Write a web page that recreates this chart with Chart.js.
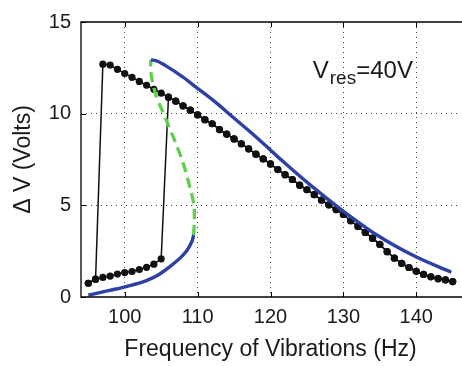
<!DOCTYPE html>
<html>
<head>
<meta charset="utf-8">
<script src="https://cdn.jsdelivr.net/npm/chart.js@4.4.0/dist/chart.umd.min.js"></script>
<style>
    html, body { margin: 0; padding: 0; background: #fff; overflow: hidden; }
    #contenedor { width: 464px; height: 366px; }
</style>
</head>
<body>
<div id="contenedor"><canvas id="myChart" width="464" height="366"></canvas></div>
<script>
// Datos experimentales: rama baja (Hz, Volts)
var frecBaja = [95, 96, 97, 98, 99, 100, 101, 102, 103, 104, 105];
var voltBaja = [0.75, 0.97, 1.07, 1.14, 1.25, 1.33, 1.39, 1.5, 1.62, 1.79, 2.08];

// Datos experimentales: rama alta
var frecAlta = [97, 98, 99, 100, 101, 102, 103, 104, 105, 106, 107, 108, 109, 110, 111, 112,
    113, 114, 115, 116, 117, 118, 119, 120, 121, 122, 123, 124, 125, 126, 127, 128, 129, 130,
    131, 132, 133, 134, 135, 136, 137, 138, 139, 140, 141, 142, 143, 144, 145];
var voltAlta = [12.7, 12.65, 12.42, 12.19, 11.98, 11.76, 11.55, 11.33, 11.12, 10.9, 10.68, 10.43,
    10.19, 9.93, 9.67, 9.45, 9.13, 8.88, 8.62, 8.36, 8.08, 7.79, 7.53, 7.26, 6.95, 6.67, 6.41,
    6.1, 5.85, 5.58, 5.28, 5.03, 4.77, 4.5, 4.16, 3.85, 3.52, 3.21, 2.87, 2.47, 2.12, 1.83,
    1.61, 1.4, 1.23, 1.1, 1.0, 0.93, 0.84];

// Curva teorica estable (rama alta y rama baja)
var frecTeoAlta = [103.6, 104.5, 105.6, 107.9, 109.9, 112.4, 114.7, 117, 119.2, 121.5, 125.6, 129.7, 134.6, 139.6, 144.8];
var voltTeoAlta = [12.94, 12.86, 12.62, 12.02, 11.41, 10.64, 9.86, 9.08, 8.31, 7.47, 6.06, 4.77, 3.38, 2.26, 1.35];
var frecTeoBaja = [95, 97.9, 100.2, 102.9, 104.7, 106.5, 107.9, 108.5, 109.0, 109.3, 109.45];
var voltTeoBaja = [0.1, 0.36, 0.57, 0.88, 1.23, 1.75, 2.24, 2.52, 2.85, 3.12, 3.38];

// Curva teorica inestable (verde discontinua)
var frecInestable = [109.45, 109.55, 109.5, 109.0, 108.4, 107.8, 107.0, 106.1, 105.2, 104.3, 103.8, 103.55, 103.6];
var voltInestable = [3.38, 4.2, 5.0, 5.89, 6.8, 7.55, 8.39, 9.26, 10.12, 10.98, 11.76, 12.4, 12.94];

// Marcas de los ejes
var ticksX = [100, 110, 120, 130, 140];
var ticksY = [0, 5, 10, 15];

var fuente = '"Liberation Sans", Arial, Helvetica, sans-serif';
var colorTexto = "#1a1a1a";

function puntos(xs, ys) {
    return xs.map(function (x, i) {
        return { x: x, y: ys[i] };
    });
}

// Barrido de subida: rama baja hasta 105 Hz, salto a la rama alta
var subida = puntos(frecBaja, voltBaja).concat(
    puntos(frecAlta, voltAlta).filter(function (p) { return p.x >= 106; })
);
// Barrido de bajada: rama alta hasta 97 Hz, salto a la rama baja
var bajada = puntos(frecAlta, voltAlta).reverse().concat(
    puntos(frecBaja, voltBaja).filter(function (p) { return p.x <= 96; }).reverse()
);

// Texto V_res=40V y caja de ejes con marcas hacia dentro
var extras = {
    id: "extras",
    afterDatasetsDraw: function (chart) {
        var c = chart.ctx;
        var x = chart.scales.x.getPixelForValue(125.8);
        var y = chart.scales.y.getPixelForValue(11.97);
        c.save();
        c.fillStyle = colorTexto;
        c.textBaseline = "alphabetic";
        c.textAlign = "left";
        c.font = "24px " + fuente;
        c.fillText("V", x, y);
        x += c.measureText("V").width + 1;
        c.font = "19px " + fuente;
        c.fillText("res", x, y + 6.5);
        x += c.measureText("res").width;
        c.font = "24px " + fuente;
        c.fillText("=40V", x, y);
        c.restore();
    },
    afterDraw: function (chart) {
        var c = chart.ctx;
        var a = chart.chartArea;
        c.save();
        c.strokeStyle = "#000";
        c.lineWidth = 1.3;
        c.beginPath();
        c.moveTo(a.right + 2, a.top);
        c.lineTo(a.left, a.top);
        c.lineTo(a.left, a.bottom);
        c.lineTo(a.right + 2, a.bottom);
        c.stroke();
        c.lineWidth = 1;
        ticksX.forEach(function (v) {
            var px = Math.round(chart.scales.x.getPixelForValue(v)) + 0.5;
            c.beginPath();
            c.moveTo(px, a.bottom);
            c.lineTo(px, a.bottom - 5);
            c.moveTo(px, a.top);
            c.lineTo(px, a.top + 5);
            c.stroke();
        });
        ticksY.forEach(function (v) {
            var py = Math.round(chart.scales.y.getPixelForValue(v)) + 0.5;
            c.beginPath();
            c.moveTo(a.left, py);
            c.lineTo(a.left + 5, py);
            c.stroke();
        });
        c.restore();
    }
};

var ctx = document.getElementById("myChart").getContext("2d");

var myChart = new Chart(ctx, {
    type: "scatter",
    data: {
        datasets: [
            {
                label: "Teoria estable alta",
                data: puntos(frecTeoAlta, voltTeoAlta),
                showLine: true,
                borderColor: "#2d40a6",
                borderWidth: 3.4,
                pointRadius: 0,
                cubicInterpolationMode: "monotone",
                order: 0
            },
            {
                label: "Teoria estable baja",
                data: puntos(frecTeoBaja, voltTeoBaja),
                showLine: true,
                borderColor: "#2d40a6",
                borderWidth: 3.4,
                pointRadius: 0,
                cubicInterpolationMode: "monotone",
                order: 0
            },
            {
                label: "Teoria inestable",
                data: puntos(frecInestable, voltInestable),
                showLine: true,
                borderColor: "#5fcf4c",
                borderWidth: 3.3,
                borderDash: [10, 6],
                pointRadius: 0,
                tension: 0.3,
                order: 0
            },
            {
                label: "Subida",
                data: subida,
                showLine: true,
                borderColor: "#111",
                borderWidth: 1.5,
                backgroundColor: "#111",
                pointRadius: 3.6,
                pointBorderWidth: 0,
                order: 1
            },
            {
                label: "Bajada",
                data: bajada,
                showLine: true,
                borderColor: "#111",
                borderWidth: 1.5,
                backgroundColor: "#111",
                pointRadius: 3.6,
                pointBorderWidth: 0,
                order: 1
            }
        ]
    },
    options: {
        responsive: false,
        animation: false,
        devicePixelRatio: 1,
        layout: { padding: { top: 8, left: 0, right: 0, bottom: 0 } },
        plugins: {
            legend: { display: false },
            tooltip: { enabled: false }
        },
        scales: {
            x: {
                type: "linear",
                min: 94,
                max: 146,
                afterBuildTicks: function (scale) {
                    scale.ticks = ticksX.map(function (v) { return { value: v }; });
                },
                afterFit: function (scale) {
                    scale.height = 69;
                },
                grid: {
                    color: "rgba(0,0,0,0.75)",
                    lineWidth: 1,
                    drawTicks: false
                },
                border: { display: false, dash: [1, 4] },
                ticks: {
                    padding: 8,
                    color: colorTexto,
                    font: { family: fuente, size: 20 }
                },
                title: {
                    display: true,
                    text: "Frequency of Vibrations (Hz)",
                    color: colorTexto,
                    font: { family: fuente, size: 23 },
                    padding: { top: 0, bottom: 3 }
                }
            },
            y: {
                type: "linear",
                min: 0,
                max: 15,
                afterBuildTicks: function (scale) {
                    scale.ticks = ticksY.map(function (v) { return { value: v }; });
                },
                afterFit: function (scale) {
                    scale.width = 81;
                },
                grid: {
                    color: function (context) {
                        var v = context.tick ? context.tick.value : null;
                        return (v === 0 || v === 15) ? "rgba(0,0,0,0)" : "rgba(0,0,0,0.75)";
                    },
                    lineWidth: 1,
                    drawTicks: false
                },
                border: { display: false, dash: [1, 4] },
                ticks: {
                    padding: 10,
                    color: colorTexto,
                    font: { family: fuente, size: 20 }
                },
                title: {
                    display: true,
                    text: "\u0394 V (Volts)",
                    color: colorTexto,
                    font: { family: fuente, size: 23 },
                    padding: { top: 10, bottom: 0 }
                }
            }
        }
    },
    plugins: [extras]
});
</script>
</body>
</html>
